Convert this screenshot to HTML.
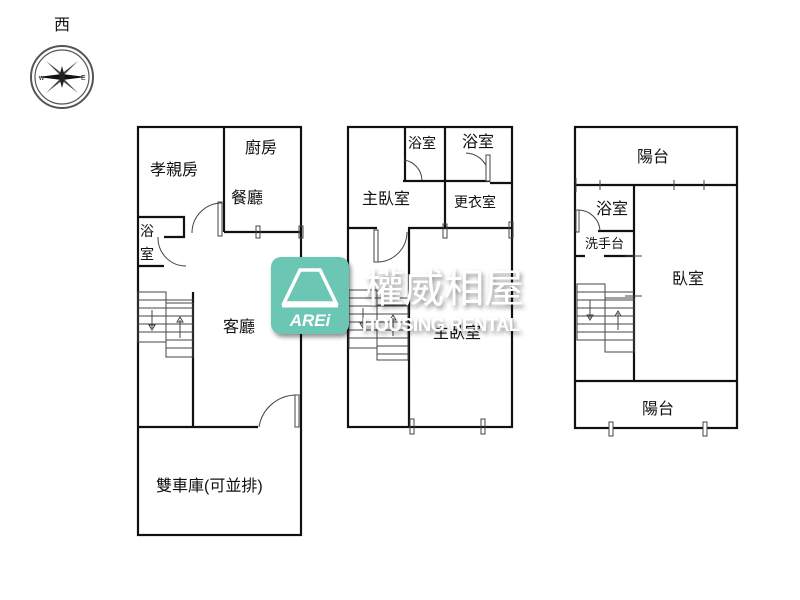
<!DOCTYPE html>
<html><head><meta charset="utf-8"><style>
body{margin:0;background:#fff;width:800px;height:600px;overflow:hidden}
svg{display:block}
text{font-family:"Liberation Sans","Noto Sans CJK TC",sans-serif;fill:#111}
</style></head><body>
<svg width="800" height="600" viewBox="0 0 800 600">
<defs><filter id="sh" x="-10%" y="-20%" width="130%" height="160%"><feGaussianBlur in="SourceAlpha" stdDeviation="2.5"/><feOffset dx="2" dy="3"/><feComponentTransfer><feFuncA type="linear" slope="0.45"/></feComponentTransfer><feMerge><feMergeNode/><feMergeNode in="SourceGraphic"/></feMerge></filter></defs>
<!-- compass -->
<text x="62" y="30" font-size="16" text-anchor="middle">西</text>
<circle cx="62" cy="77" r="31" fill="none" stroke="#555" stroke-width="2"/>
<circle cx="62" cy="77" r="27" fill="none" stroke="#555" stroke-width="1.2"/>
<polygon points="62,77 46,61 64,75" fill="#444"/><polygon points="62,77 78,61 60,75" fill="#444"/>
<polygon points="62,77 46,93 64,79" fill="#444"/><polygon points="62,77 78,93 60,79" fill="#444"/>
<polygon points="38,77 62,74 86,77 62,80" fill="#111"/>
<polygon points="62,66 65,77 62,88 59,77" fill="#222"/>
<text x="39" y="80" font-size="7">w</text><text x="81" y="80" font-size="7">E</text>

<g fill="none" stroke="#111" stroke-width="2.2">
<!-- floor 1 -->
<rect x="138" y="127" width="163" height="408"/>
<line x1="224" y1="127" x2="224" y2="232"/>
<line x1="224" y1="232" x2="301" y2="232"/>
<polyline points="138,217 184,217 184,237 164,237"/>
<line x1="138" y1="266" x2="164" y2="266"/>
<line x1="193" y1="292" x2="193" y2="427"/>
<line x1="138" y1="427" x2="258" y2="427"/>
</g>
<g fill="none" stroke="#444" stroke-width="1">
<path d="M222,203 A30,30 0 0 0 192,233"/>
<path d="M158,237 A28,28 0 0 0 186,266" />
<path d="M297,395 A38,38 0 0 0 259,427"/>
<rect x="218" y="202" width="4" height="34"/>
<rect x="295" y="395" width="4" height="32"/>
<rect x="256" y="226" width="4" height="12"/><rect x="299" y="226" width="4" height="12"/>
<!-- stairs 1 -->
<rect x="138" y="292" width="28" height="50"/><rect x="166" y="303" width="27" height="54"/>
<path d="M138,300H193M138,308H193M138,316H193M138,324H193M138,332H193M166,340H193M166,348H193"/>
<path d="M152,310V328M149,325L152,330L155,325Z"/><path d="M180,338V320M177,322L180,317L183,322Z"/>
</g>
<g fill="none" stroke="#111" stroke-width="2.2">
<!-- floor 2 -->
<rect x="348" y="127" width="164" height="300"/>
<line x1="445" y1="127" x2="445" y2="228"/>
<line x1="405" y1="127" x2="405" y2="180"/>
<line x1="403" y1="181" x2="490" y2="181"/>
<line x1="490" y1="183" x2="512" y2="183"/>
<line x1="348" y1="228" x2="377" y2="228"/>
<line x1="408" y1="228" x2="512" y2="228"/>
<line x1="409" y1="228" x2="409" y2="427"/>
</g>
<g fill="none" stroke="#444" stroke-width="1">
<path d="M404,160 A21,21 0 0 1 422,180"/>
<path d="M466,153 A24,24 0 0 1 489,177"/>
<rect x="486" y="155" width="4" height="26" fill="#fff"/>
<rect x="374" y="230" width="4" height="32"/>
<path d="M378,262 A30,30 0 0 0 407,232"/>
<rect x="443" y="224" width="4" height="14"/><rect x="509" y="222" width="4" height="16"/>
<rect x="410" y="419" width="4" height="15"/><rect x="481" y="419" width="4" height="15"/>
<rect x="349" y="290" width="28" height="58"/><rect x="377" y="305" width="31" height="55"/>
<path d="M349,298H408M349,306H408M349,314H408M349,322H408M349,330H408M349,338H408M377,346H408M377,354H408"/>
<path d="M363,308V326M360,323L363,328L366,323Z"/><path d="M393,336V318M390,320L393,315L396,320Z"/>
</g>
<g fill="none" stroke="#111" stroke-width="2.2">
<!-- floor 3 -->
<rect x="575" y="127" width="162" height="301"/>
<line x1="575" y1="185" x2="737" y2="185"/>
<line x1="575" y1="381" x2="737" y2="381"/>
<line x1="634" y1="185" x2="634" y2="381"/>
<line x1="598" y1="231" x2="634" y2="231"/>
<path d="M576,256H585M604,256H634"/>
</g>
<g fill="none" stroke="#444" stroke-width="1">
<path d="M600,180V190M674,180V190M704,180V190M576,178V192"/>
<path d="M577,210 A22,22 0 0 1 600,231"/><rect x="576" y="210" width="3" height="22"/>
<path d="M625,256H642M625,296H642"/>
<rect x="577" y="284" width="28" height="56"/><rect x="605" y="298" width="29" height="54"/>
<path d="M577,292H634M577,300H634M577,308H634M577,316H634M577,324H634M577,332H634M605,340H634"/>
<path d="M590,300V318M587,315L590,320L593,315Z"/><path d="M618,330V313M615,316L618,311L621,316Z"/>
<rect x="609" y="422" width="4" height="14" fill="#fff"/><rect x="703" y="422" width="4" height="14" fill="#fff"/>
</g>
<!-- labels -->
<g font-size="16">
<text x="150" y="175">孝親房</text><text x="245" y="153">廚房</text><text x="231" y="203">餐廳</text>
<text x="223" y="332">客廳</text><text x="156" y="491">雙車庫(可並排)</text>
<text x="140" y="236" font-size="14">浴</text><text x="140" y="259" font-size="14">室</text>
<text x="362" y="204">主臥室</text><text x="462" y="147">浴室</text><text x="433" y="338">主臥室</text>
<text x="637" y="162">陽台</text><text x="672" y="284">臥室</text><text x="642" y="414">陽台</text>
<text x="596" y="214">浴室</text>
</g>
<text x="408" y="148" font-size="14">浴室</text>
<text x="454" y="207" font-size="14">更衣室</text>
<text x="585" y="248" font-size="13">洗手台</text>
<!-- watermark -->
<rect x="271" y="257" width="78" height="77" rx="10" fill="#6cc6b4" filter="url(#sh)"/>
<path d="M284,303 L300,270 H320 L336,303 Z" fill="none" stroke="#fff" stroke-width="3.5"/>
<line x1="282" y1="306" x2="338" y2="306" stroke="#fff" stroke-width="3"/>
<text x="310" y="326" font-size="17" font-weight="bold" font-style="italic" text-anchor="middle" style="fill:#fff">AREi</text>
<g filter="url(#sh)">
<text x="364" y="302" font-size="40" style="fill:#fff">權威相屋</text>
<text x="362" y="331" font-size="18" font-weight="bold" style="fill:#fff" textLength="158">HOUSING RENTAL</text>
</g>
</svg>
</body></html>
